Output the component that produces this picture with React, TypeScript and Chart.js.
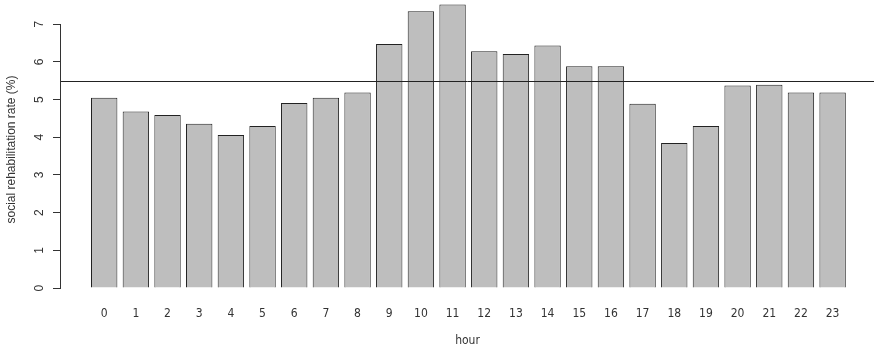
import React, { useEffect, useRef } from "react";
import { Chart, registerables } from "chart.js";

Chart.register(...registerables);

const hourLabels: string[] = ["0","1","2","3","4","5","6","7","8","9","10","11","12","13","14","15","16","17","18","19","20","21","22","23"];
const rateValues: number[] = [5.05, 4.68, 4.59, 4.36, 4.06, 4.30, 4.91, 5.05, 5.19, 6.47, 7.34, 7.52, 6.28, 6.21, 6.43, 5.88, 5.88, 4.89, 3.85, 4.30, 5.37, 5.39, 5.19, 5.19];
const yTickValues: number[] = [0, 1, 2, 3, 4, 5, 6, 7];
const referenceLine: number = 5.5;
const xTitle = "hour";
const yTitle = "social rehabilitation rate (%)";

const textColor = "#333333";
const fontFamily = "'Liberation Sans', Arial, sans-serif";
const narrowFamily = "'Liberation Sans Narrow', 'DejaVu Sans Condensed', 'Liberation Sans', sans-serif";

const extrasPlugin = {
  id: "rExtras",
  afterDatasetsDraw(chart: any) {
    const { ctx, chartArea, scales } = chart;
    const y = scales.y;
    ctx.save();
    const ly = Math.round(y.getPixelForValue(referenceLine)) + 0.5;
    ctx.strokeStyle = "#222222";
    ctx.lineWidth = 1;
    ctx.beginPath();
    ctx.moveTo(chartArea.left, ly);
    ctx.lineTo(chartArea.right, ly);
    ctx.stroke();
    const ax = Math.round(chartArea.left) - 0.5;
    ctx.strokeStyle = "#333333";
    ctx.beginPath();
    ctx.moveTo(ax, y.getPixelForValue(yTickValues[0]));
    ctx.lineTo(ax, y.getPixelForValue(yTickValues[yTickValues.length - 1]));
    ctx.stroke();
    ctx.restore();
  },
};

export default function App() {
  const canvasRef = useRef<HTMLCanvasElement | null>(null);

  useEffect(() => {
    const canvas = canvasRef.current;
    if (!canvas) return;
    const chart = new Chart(canvas, {
      type: "bar",
      data: {
        datasets: [
          {
            data: hourLabels.map((h, i) => ({ x: Number(h), y: rateValues[i] })),
            backgroundColor: "#bebebe",
            borderColor: "#222222",
            borderWidth: 1,
            barPercentage: 0.8333,
            categoryPercentage: 1,
          },
        ],
      },
      options: {
        animation: false,
        responsive: false,
        devicePixelRatio: 1,
        layout: { padding: 0 },
        plugins: {
          legend: { display: false },
          tooltip: { enabled: false },
          title: { display: false },
        },
        scales: {
          x: {
            type: "linear",
            offset: false,
            min: -1.364,
            max: 24.307,
            grid: { display: false, drawTicks: false },
            border: { display: false },
            afterBuildTicks: (scale: any) => {
              scale.ticks = hourLabels.map((h) => ({ value: Number(h) }));
            },
            afterFit: (scale: any) => {
              scale.height = 52;
              scale.paddingLeft = 0;
              scale.paddingRight = 0;
            },
            ticks: {
              autoSkip: false,
              maxRotation: 0,
              minRotation: 0,
              padding: 8,
              color: textColor,
              font: { family: narrowFamily, size: 12 },
              callback: (v: any) => String(v),
            },
            title: {
              display: true,
              text: xTitle,
              color: textColor,
              font: { family: narrowFamily, size: 12 },
              padding: { top: 0, bottom: 3 },
            },
          },
          y: {
            type: "linear",
            min: -0.29,
            max: 7.64,
            grid: {
              display: true,
              drawOnChartArea: false,
              drawTicks: true,
              tickLength: 8,
              color: "#333333",
            },
            border: { display: false },
            afterBuildTicks: (scale: any) => {
              scale.ticks = yTickValues.map((v) => ({ value: v }));
            },
            afterFit: (scale: any) => {
              scale.width = 61;
              scale.paddingTop = 0;
              scale.paddingBottom = 0;
            },
            ticks: {
              minRotation: 90,
              maxRotation: 90,
              crossAlign: "center",
              padding: 10,
              color: textColor,
              font: { family: fontFamily, size: 12 },
              callback: (v: any) => String(v),
            },
            title: {
              display: true,
              text: yTitle,
              color: textColor,
              font: { family: fontFamily, size: 12 },
              padding: { top: 4, bottom: 0 },
            },
          },
        },
      } as any,
      plugins: [extrasPlugin],
    });
    return () => chart.destroy();
  }, []);

  return (
    <div style={{ position: "absolute", left: 0, top: 0, width: 874, height: 351, background: "#ffffff" }}>
      <canvas ref={canvasRef} width={874} height={351} style={{ display: "block" }} />
    </div>
  );
}
